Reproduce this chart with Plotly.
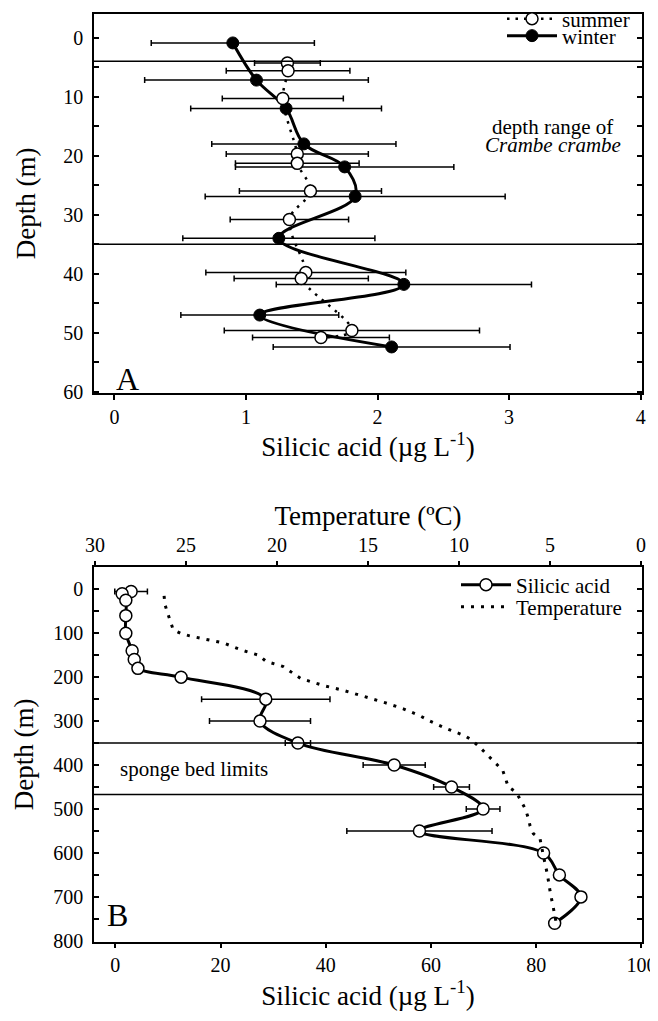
import plotly.graph_objects as go

# ---------------- Panel A data ----------------
summer_depth = [4.3, 5.6, 10.3, 19.7, 21.3, 26.0, 30.8, 39.8, 40.8, 49.6, 50.8]
summer_si = [1.315, 1.32, 1.28, 1.39, 1.39, 1.49, 1.33, 1.455, 1.42, 1.805, 1.57]
summer_sd = [0.25, 0.47, 0.46, 0.54, 0.47, 0.54, 0.45, 0.76, 0.51, 0.97, 0.52]

winter_depth = [0.9, 7.2, 12.0, 18.0, 21.9, 26.9, 34.0, 41.8, 47.0, 52.4]
winter_si = [0.90, 1.08, 1.305, 1.44, 1.75, 1.83, 1.25, 2.20, 1.105, 2.107]
winter_sd = [0.62, 0.85, 0.725, 0.70, 0.83, 1.14, 0.73, 0.97, 0.60, 0.90]

crambe_limits = [4, 35]

# ---------------- Panel B data ----------------
b_depth = [5, 10, 25, 60, 100, 140, 160, 180, 200, 250, 300, 350, 400, 450, 500, 550, 600, 650, 700, 760]
b_si = [3.0, 1.3, 2.0, 2.0, 2.0, 3.2, 3.6, 4.3, 12.5, 28.6, 27.5, 34.7, 53.0, 63.9, 69.9, 57.8, 81.4, 84.4, 88.5, 83.5]
b_sd = [3.1, 0, 0, 0, 0, 0, 0, 0, 0, 12.2, 9.6, 2.4, 5.9, 3.4, 3.2, 13.8, 0, 0, 0, 0]

temp_depth = [15, 35, 55, 80, 92, 100, 106, 114, 122, 139, 150, 164, 176, 203, 219, 230, 245, 258,
              272, 288, 300, 317, 333, 344, 358, 376, 395, 412, 449, 462, 481, 500, 520, 538, 556,
              568, 606, 648, 687, 725, 763]
temp_c = [26.2, 26.15, 26.0, 25.8, 25.7, 25.3, 24.8, 23.9, 22.95, 21.9, 21.0, 20.6, 19.65, 18.7, 17.45,
          16.35, 15.07, 14.07, 13.06, 12.14, 11.6, 10.7, 9.7, 9.27, 8.9, 8.48, 8.0, 7.6, 7.3, 6.87, 6.6,
          6.36, 6.2, 6.1, 5.92, 5.55, 5.37, 5.15, 5.0, 4.8, 4.64]

sponge_limits = [350, 467]

A_xticks = [0, 1, 2, 3, 4]
A_yticks = [0, 10, 20, 30, 40, 50, 60]
B_xticks = [0, 20, 40, 60, 80, 100]
B_yticks = [0, 100, 200, 300, 400, 500, 600, 700, 800]
B_tticks = [30, 25, 20, 15, 10, 5, 0]

FONT = "Liberation Serif"
OFF = 8                      # default page margin of the html body
W, H = 658 - OFF, 1021 - OFF


def px_x(p):
    return (p - OFF) / W


def px_y(p):
    return 1 - (p - OFF) / H


fig = go.Figure()

err = dict(type="data", symmetric=True, color="black", thickness=1.5, width=3)

# Panel A
fig.add_trace(go.Scatter(
    x=winter_si, y=winter_depth, mode="lines+markers", name="winter",
    line=dict(color="black", width=3, shape="spline"),
    marker=dict(symbol="circle", size=12, color="black", line=dict(color="black", width=1)),
    error_x=dict(err, array=winter_sd), xaxis="x", yaxis="y", legend="legend2"))
fig.add_trace(go.Scatter(
    x=summer_si, y=summer_depth, mode="lines+markers", name="summer",
    line=dict(color="black", width=2.5, shape="spline", dash="2.5px,6px"),
    marker=dict(symbol="circle", size=12, color="white", line=dict(color="black", width=1.5)),
    error_x=dict(err, array=summer_sd), xaxis="x", yaxis="y", legend="legend"))

# Panel B
fig.add_trace(go.Scatter(
    x=temp_c, y=temp_depth, mode="lines", name="Temperature",
    line=dict(color="black", width=3, dash="3px,7px"),
    xaxis="x3", yaxis="y2", legend="legend4"))
fig.add_trace(go.Scatter(
    x=b_si, y=b_depth, mode="lines+markers", name="Silicic acid",
    line=dict(color="black", width=3, shape="spline"),
    marker=dict(symbol="circle", size=12, color="white", line=dict(color="black", width=1.5)),
    error_x=dict(err, array=b_sd), xaxis="x2", yaxis="y2", legend="legend3"))

shapes = []
for d in crambe_limits:
    shapes.append(dict(type="line", xref="x domain", x0=0, x1=1, yref="y", y0=d, y1=d,
                       line=dict(color="black", width=1.5)))
for d in sponge_limits:
    shapes.append(dict(type="line", xref="x2 domain", x0=0, x1=1, yref="y2", y0=d, y1=d,
                       line=dict(color="black", width=1.5)))

tickfont = dict(family=FONT, size=20, color="black")
titlefont = dict(family=FONT, size=27, color="black")

common = dict(showline=True, linecolor="black", linewidth=1.5, showgrid=False, zeroline=False,
              tickfont=tickfont, tickcolor="black", tickwidth=1.5, ticklen=5, automargin=False)

xdom = [px_x(94), px_x(642)]

leg_common = dict(font=dict(family=FONT, size=21, color="black"), bgcolor="rgba(0,0,0,0)",
                  xanchor="left", yanchor="middle", itemwidth=50, borderwidth=0,
                  tracegroupgap=0)

fig.update_layout(
    template="none",
    font=dict(family=FONT, color="black"),
    width=W, height=H, margin=dict(l=0, r=0, t=0, b=0, pad=0, autoexpand=False),
    paper_bgcolor="white", plot_bgcolor="white",
    showlegend=True,
    xaxis=dict(common, domain=xdom, range=[-0.155, 4.01], tickvals=A_xticks, ticks="outside",
               mirror=True, anchor="y", ticklabelstandoff=0,
               title=dict(text="Silicic acid (µg L<sup>-1</sup>)", font=titlefont, standoff=0)),
    yaxis=dict(common, domain=[px_y(393), px_y(14)], range=[60.2, -4], tickvals=A_yticks,
               ticks="inside", mirror="ticks", anchor="x", ticklabelstandoff=5,
               minor=dict(dtick=5, tick0=0, ticks="inside", ticklen=5, tickcolor="black", tickwidth=1.5),
               title=dict(text="Depth (m)", font=titlefont, standoff=20)),
    xaxis2=dict(common, domain=xdom, range=[-4.05, 100.1], tickvals=B_xticks, ticks="outside",
                mirror=False, anchor="y2", ticklabelstandoff=0,
                title=dict(text="Silicic acid (µg L<sup>-1</sup>)", font=titlefont, standoff=6)),
    xaxis3=dict(common, domain=xdom, range=[30.05, -0.05], tickvals=B_tticks, ticks="outside",
                side="top", overlaying="x2", anchor="y2", ticklabelstandoff=1,
                title=dict(text="Temperature (ºC)", font=titlefont, standoff=0)),
    yaxis2=dict(common, domain=[px_y(941.7), px_y(567.3)], range=[802, -50], tickvals=B_yticks,
                ticks="inside", mirror="ticks", anchor="x2", ticklabelstandoff=5,
                minor=dict(dtick=50, tick0=0, ticks="inside", ticklen=5, tickcolor="black", tickwidth=1.5),
                title=dict(text="Depth (m)", font=titlefont, standoff=12)),
    shapes=shapes,
    legend=dict(leg_common, x=px_x(502), y=px_y(19)),
    legend2=dict(leg_common, x=px_x(502), y=px_y(36)),
    legend3=dict(leg_common, x=px_x(456), y=px_y(585)),
    legend4=dict(leg_common, x=px_x(456), y=px_y(607)),
    annotations=[
        dict(text="depth range of", xref="x", yref="y", x=3.33, y=15.1,
             showarrow=False, font=dict(family=FONT, size=21, color="black")),
        dict(text="<i>Crambe crambe</i>", xref="x", yref="y", x=3.33, y=18.2,
             showarrow=False, font=dict(family=FONT, size=21, color="black")),
        dict(text="A", xref="x", yref="y", x=0.1, y=57.8, showarrow=False,
             font=dict(family=FONT, size=32, color="black")),
        dict(text="sponge bed limits", xref="x2", yref="y2", x=0.6, y=409, xanchor="left",
             showarrow=False, font=dict(family=FONT, size=21, color="black")),
        dict(text="B", xref="x2", yref="y2", x=0.5, y=742, showarrow=False,
             font=dict(family=FONT, size=32, color="black")),
    ],
)

fig.write_html("out.html")
